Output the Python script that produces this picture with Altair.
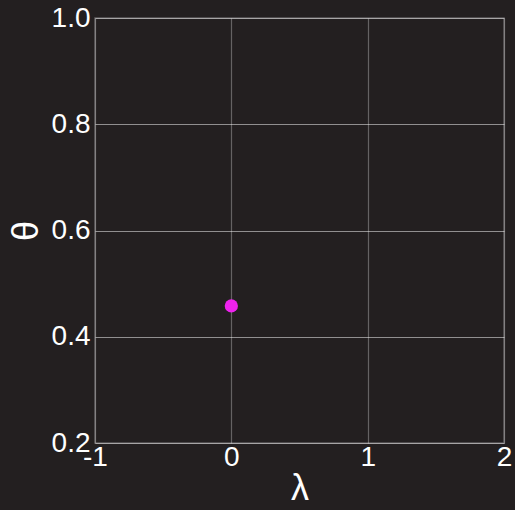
import altair as alt
import pandas as pd

lam = [0]
theta = [0.458]
x_ticks = [-1, 0, 1, 2]
y_ticks = [0.2, 0.4, 0.6, 0.8, 1.0]

df = pd.DataFrame({"lam": lam, "theta": theta})

chart = alt.Chart(df).mark_circle(size=175, color="#ee22ee", opacity=1).encode(
    x=alt.X("lam:Q", scale=alt.Scale(domain=[-1, 2], nice=False, zero=False),
            axis=alt.Axis(values=x_ticks, title="λ", labelExpr="'' + datum.value",
                          labelPadding=0, gridOpacity=0.3)),
    y=alt.Y("theta:Q", scale=alt.Scale(domain=[0.2, 1.0], nice=False, zero=False),
            axis=alt.Axis(values=y_ticks, title="θ", format=".1f", labelPadding=5,
                          gridOpacity=0.5)),
).properties(
    width=409, height=425,
    background="#231f20",
    padding={"left": 95, "top": 18, "right": 11, "bottom": 67},
    autosize=alt.AutoSizeParams(type="none"),
).configure_view(
    stroke="#5e5b5c", strokeWidth=1.5, fill="#231f20"
).configure_axis(
    domain=False, ticks=False,
    grid=True, gridColor="#ffffff", gridWidth=1.2,
    labelColor="#ffffff", labelFont="Liberation Sans", labelFontSize=28,
    titleColor="#ffffff", titleFont="Liberation Sans", titleFontSize=36, titleFontWeight="normal",
).configure_axisX(
    titlePadding=0, labelFlush=False,
).configure_axisY(
    titlePadding=6, titleAngle=270, titleBaseline="bottom",
)

chart.save("out.html", embed_options={"renderer": "svg", "actions": False})
